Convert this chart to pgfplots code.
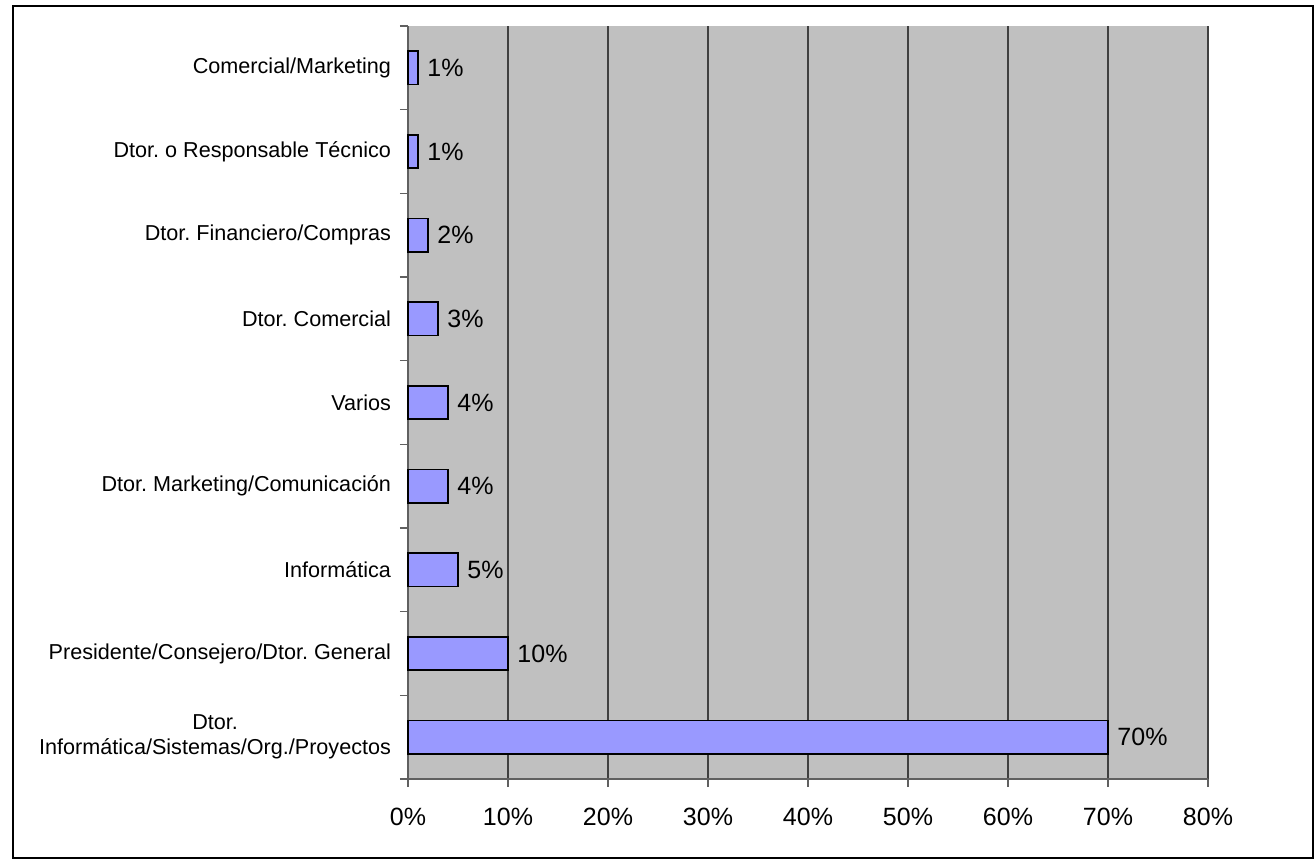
\documentclass[border=0pt]{standalone}
\usepackage{pgfplots}
\pgfplotsset{compat=1.18}
\usepackage{fontspec}
\setmainfont{Liberation Sans}
\frenchspacing
\definecolor{plotgray}{HTML}{C0C0C0}
\definecolor{barblue}{HTML}{9999FF}
\definecolor{axisgray}{HTML}{606060}

\begin{document}
\begin{tikzpicture}[x=1pt,y=1pt]
% page: 1315x859 px at 0.5pt per px, axis lower left at px (408,779)
\useasboundingbox (-204pt,-40pt) rectangle (453.5pt,389.5pt);
\draw[line width=1pt] (-197.5pt,-39.5pt) rectangle (452.5pt,386.5pt);
\begin{axis}[
    at={(0,0)}, anchor=south west,
    scale only axis,
    width=400pt,
    height=376.5pt,
    xbar,
    bar width=0.4,
    xmin=0, xmax=80,
    ymin=-0.5, ymax=8.5,
    axis x line*=bottom,
    axis y line*=left,
    axis line style={-, draw=axisgray, line width=0.8pt},
    axis background/.style={fill=plotgray},
    xtick={0,10,...,80},
    xticklabel={\pgfmathprintnumber{\tick}\%},
    /pgf/number format/assume math mode=true,
    ytick={0,...,8},
    yticklabels={{Dtor.\\Informática/Sistemas/Org./Proyectos},
                 Presidente/Consejero/Dtor. General,
                 Informática,
                 Dtor. Marketing/Comunicación,
                 Varios,
                 Dtor. Comercial,
                 Dtor. Financiero/Compras,
                 Dtor. o Responsable Técnico,
                 Comercial/Marketing},
    minor ytick={-0.5,0.5,...,8.5},
    major tick length=4pt,
    minor tick length=4pt,
    tick align=outside,
    major x tick style={draw=axisgray, line width=0.8pt},
    major y tick style={draw=none},
    minor y tick style={draw=axisgray, line width=0.8pt},
    xmajorgrids,
    major x grid style={draw=black!75, line width=0.6pt},
    yticklabel style={font=\fontsize{10.8}{12.5}\selectfont, align=center, xshift=-1pt},
    xticklabel style={font=\fontsize{12.5}{15}\selectfont, yshift=-7pt},
    nodes near coords={\pgfmathprintnumber{\pgfplotspointmeta}\%},
    every node near coord/.append style={font=\fontsize{12.5}{15}\selectfont, anchor=west, xshift=1pt},
    clip=false,
]
\addplot[fill=barblue, draw=black, line width=0.8pt] coordinates {
    (70,0) (10,1) (5,2) (4,3) (4,4) (3,5) (2,6) (1,7) (1,8)
};
\end{axis}
\end{tikzpicture}
\end{document}
